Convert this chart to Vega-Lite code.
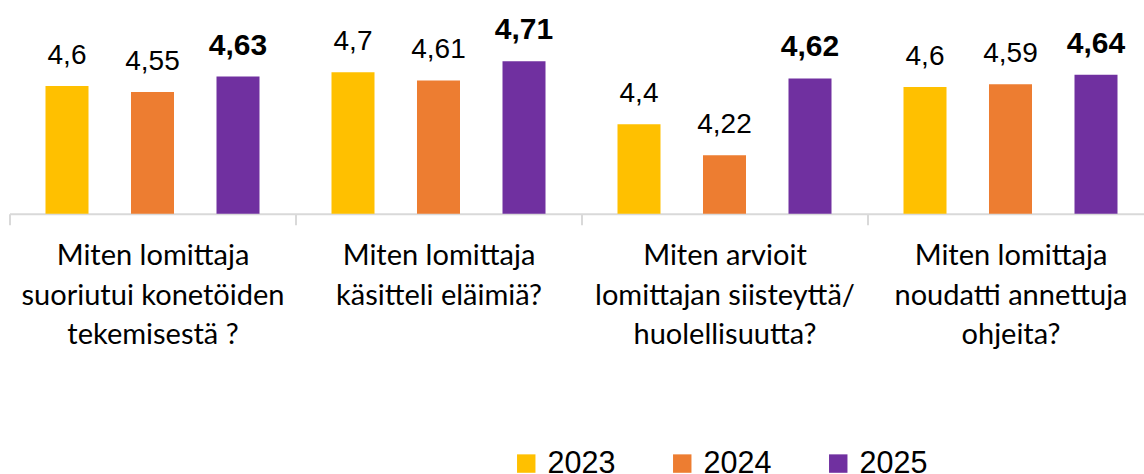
{
  "$schema": "https://vega.github.io/schema/vega-lite/v6.json",
  "autosize": "none",
  "width": 1134.5,
  "height": 208.1,
  "padding": {"left": 9.5, "top": 5.6, "right": 0, "bottom": 260.3},
  "background": "white",
  "config": {"view": {"stroke": null}},
  "data": {
    "values": [
      {"q": "Miten lomittaja\nsuoriutui konetöiden\ntekemisestä ?", "year": "2023", "value": 4.581, "label": "4,6"},
      {"q": "Miten lomittaja\nsuoriutui konetöiden\ntekemisestä ?", "year": "2024", "value": 4.55, "label": "4,55"},
      {"q": "Miten lomittaja\nsuoriutui konetöiden\ntekemisestä ?", "year": "2025", "value": 4.63, "label": "4,63"},
      {"q": "Miten lomittaja\nkäsitteli eläimiä?", "year": "2023", "value": 4.653, "label": "4,7"},
      {"q": "Miten lomittaja\nkäsitteli eläimiä?", "year": "2024", "value": 4.61, "label": "4,61"},
      {"q": "Miten lomittaja\nkäsitteli eläimiä?", "year": "2025", "value": 4.71, "label": "4,71"},
      {"q": "Miten arvioit\nlomittajan siisteyttä/\nhuolellisuutta?", "year": "2023", "value": 4.382, "label": "4,4"},
      {"q": "Miten arvioit\nlomittajan siisteyttä/\nhuolellisuutta?", "year": "2024", "value": 4.22, "label": "4,22"},
      {"q": "Miten arvioit\nlomittajan siisteyttä/\nhuolellisuutta?", "year": "2025", "value": 4.62, "label": "4,62"},
      {"q": "Miten lomittaja\nnoudatti annettuja\nohjeita?", "year": "2023", "value": 4.576, "label": "4,6"},
      {"q": "Miten lomittaja\nnoudatti annettuja\nohjeita?", "year": "2024", "value": 4.59, "label": "4,59"},
      {"q": "Miten lomittaja\nnoudatti annettuja\nohjeita?", "year": "2025", "value": 4.64, "label": "4,64"}
    ]
  },
  "encoding": {
    "x": {
      "field": "q", "type": "nominal", "sort": null,
      "scale": {"range": [0, 1144], "paddingInner": 0, "paddingOuter": 0},
      "axis": {
        "title": null,
        "labelAngle": 0,
        "labelExpr": "split(datum.label, '\\n')",
        "labelFont": "Lato",
        "labelFontSize": 29,
        "labelColor": "#000000",
        "labelLineHeight": 39.5,
        "labelBaseline": "alphabetic",
        "labelPadding": 40,
        "labelLimit": 400,
        "labelOverlap": false,
        "domainColor": "#D9D9D9",
        "domainWidth": 2,
        "tickColor": "#D9D9D9",
        "tickWidth": 2,
        "tickSize": 11,
        "tickOffset": -143,
        "labelOffset": 143
      }
    },
    "xOffset": {
      "field": "year", "type": "nominal",
      "scale": {"paddingInner": 0.497, "paddingOuter": 0.421}
    },
    "y": {
      "field": "value", "type": "quantitative",
      "scale": {"domain": [3.915, 5], "zero": false, "nice": false},
      "axis": null
    }
  },
  "layer": [
    {
      "mark": {"type": "bar"},
      "encoding": {
        "y2": {"datum": 3.915},
        "color": {
          "field": "year", "type": "nominal",
          "scale": {"domain": ["2023", "2024", "2025"], "range": ["#FFC000", "#ED7D31", "#7030A0"]},
          "legend": {
            "title": null,
            "orient": "none",
            "direction": "horizontal",
            "legendX": 501.5,
            "legendY": 442.6,
            "symbolType": "square",
            "symbolSize": 340,
            "symbolStrokeWidth": 0,
            "symbolOpacity": 1,
            "labelFont": "Liberation Sans",
            "labelFontSize": 30.5,
            "labelColor": "#000000",
            "labelOffset": 6,
            "columnPadding": 51,
            "padding": 0
          }
        }
      }
    },
    {
      "transform": [{"filter": "datum.year != '2025'"}],
      "mark": {"type": "text", "font": "Liberation Sans", "fontSize": 28, "color": "#000000", "baseline": "alphabetic", "align": "center", "dy": -22},
      "encoding": {"text": {"field": "label"}}
    },
    {
      "transform": [{"filter": "datum.year == '2025'"}],
      "mark": {"type": "text", "font": "Liberation Sans", "fontSize": 30, "fontWeight": "bold", "color": "#000000", "baseline": "alphabetic", "align": "center", "dy": -22},
      "encoding": {"text": {"field": "label"}}
    }
  ]
}
